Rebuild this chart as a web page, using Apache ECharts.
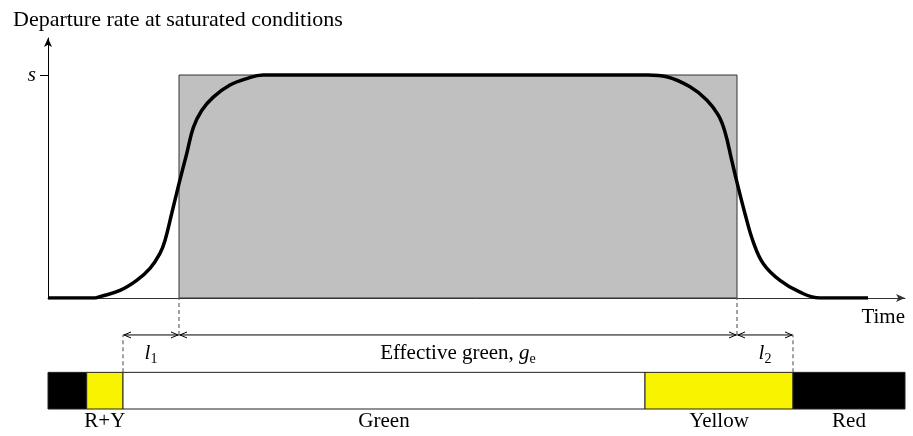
<!DOCTYPE html>
<html>
<head>
<meta charset="utf-8">
<title>departure rate</title>
<script src="https://cdn.jsdelivr.net/npm/echarts@6/dist/echarts.min.js"></script>
</head>
<body style="margin:0">
<div id="main" style="width:913px;height:436px;"></div>
<script>
// departure curve: time (s) against rate, as a share of saturation flow s
var curveTime = [0, 4.7, 5.2, 7.2, 8.87, 10.2, 11.2, 11.7, 12.37, 13.1, 13.87, 14.53, 15.37, 16.53, 18.2, 19.87, 21.5,
  60.0, 61.87, 64.2, 65.87, 67.03, 67.7, 68.37, 68.93, 69.7, 70.53, 71.53, 73.2, 75.2, 77.2, 82.0];
var curveRate = [0, 0, 0.006, 0.034, 0.079, 0.133, 0.2, 0.258, 0.379, 0.513, 0.647, 0.764, 0.841, 0.901, 0.955, 0.984, 1,
  1, 0.992, 0.947, 0.888, 0.82, 0.745, 0.618, 0.513, 0.378, 0.251, 0.154, 0.079, 0.026, 0, 0];

// effective green block
var effStart = 13.1, effEnd = 68.9, satRate = 1;

// signal phases in the bar
var phaseNames = ['', 'R+Y', 'Green', 'Yellow', 'Red'];
var phaseStart = [0, 3.87, 7.5, 59.7, 74.5];
var phaseEnd = [3.87, 7.5, 59.7, 74.5, 85.7];
var phaseColors = ['#000', '#f8f400', '#fff', '#f8f400', '#000'];

// dimension lines l1, effective green, l2
var dimStart = [7.5, 13.1, 68.9];
var dimEnd = [13.1, 68.9, 74.5];
var dimLabels = ['{it|l}{sub|1}', 'Effective green, {it|g}{sub|e}', '{it|l}{sub|2}'];

// dashed guides: time, and whether it runs up to the axis or down to the bar
var guideTime = [7.5, 13.1, 68.9, 74.5];
var guideToAxis = [false, true, true, false];

var BAR_TOP = 0.33, DIM_Y = 0.667;
var SERIF = '"Liberation Serif", "Times New Roman", serif';

var richText = {
  it: {fontStyle: 'italic', fontSize: 21, fontFamily: SERIF, lineHeight: 24, fill: '#000', color: '#000'},
  sub: {fontSize: 14, fontFamily: SERIF, lineHeight: 14, verticalAlign: 'bottom', fill: '#000', color: '#000'}
};

var myChart = echarts.init(document.getElementById('main'));

function renderRect(params, api) {
  var p0 = api.coord([api.value(0), api.value(2)]);
  var p1 = api.coord([api.value(1), 0]);
  return {
    type: 'rect',
    shape: {x: p0[0], y: p0[1], width: p1[0] - p0[0], height: p1[1] - p0[1]},
    style: {fill: '#c0c0c0', stroke: '#333', lineWidth: 1}
  };
}

function renderPhase(params, api) {
  var i = params.dataIndex;
  var p0 = api.coord([api.value(0), BAR_TOP]);
  var p1 = api.coord([api.value(1), 0]);
  var kids = [{
    type: 'rect',
    shape: {x: p0[0], y: p0[1], width: p1[0] - p0[0], height: p1[1] - p0[1]},
    style: {fill: phaseColors[i], stroke: '#222', lineWidth: 1}
  }];
  if (phaseNames[i]) {
    kids.push({
      type: 'text',
      x: (p0[0] + p1[0]) / 2, y: p1[1] + 2,
      style: {text: phaseNames[i], fill: '#000', fontSize: 21, fontFamily: SERIF, align: 'center', verticalAlign: 'top'}
    });
  }
  return {type: 'group', children: kids};
}

function renderDim(params, api) {
  var i = params.dataIndex;
  var a = api.coord([api.value(0), DIM_Y]);
  var b = api.coord([api.value(1), DIM_Y]);
  var y = a[1], ah = 8, aw = 3;
  var st = {stroke: '#000', fill: null, lineWidth: 1};
  return {type: 'group', children: [
    {type: 'line', shape: {x1: a[0], y1: y, x2: b[0], y2: y}, style: st},
    {type: 'polyline', shape: {points: [[a[0] + ah, y - aw], [a[0] + 1, y], [a[0] + ah, y + aw]]}, style: st},
    {type: 'polyline', shape: {points: [[b[0] - ah, y - aw], [b[0] - 1, y], [b[0] - ah, y + aw]]}, style: st},
    {type: 'text', x: (a[0] + b[0]) / 2, y: y + 19,
      style: {text: dimLabels[i], rich: richText, fill: '#000', fontSize: 21, fontFamily: SERIF, align: 'center', verticalAlign: 'middle'}}
  ]};
}

function renderGuide(params, api) {
  var i = params.dataIndex;
  var lo = guideToAxis[i] ? DIM_Y : BAR_TOP;
  var hi = guideToAxis[i] ? 1 : DIM_Y;
  var a = api.coord([api.value(0), lo]);
  var b = api.coord([api.value(0), hi]);
  return {
    type: 'line',
    shape: {x1: a[0], y1: a[1], x2: b[0], y2: b[1]},
    style: {stroke: '#666', lineWidth: 1.2, lineDash: [4, 3]}
  };
}

var curveData = curveTime.map(function (t, i) { return [t, curveRate[i]]; });
var phaseData = phaseStart.map(function (s, i) { return [s, phaseEnd[i]]; });
var dimData = dimStart.map(function (s, i) { return [s, dimEnd[i]]; });
var guideData = guideTime.map(function (t) { return [t]; });

myChart.setOption({
  animation: false,
  backgroundColor: '#fff',
  title: {
    text: 'Departure rate at saturated conditions',
    left: 8, top: 4,
    textStyle: {fontFamily: SERIF, fontSize: 22, fontWeight: 'normal', color: '#000'}
  },
  grid: [
    {left: 48, right: 8, top: 38, bottom: 138, outerBoundsMode: 'none'},
    {left: 48, right: 8, top: 298, bottom: 27, outerBoundsMode: 'none'}
  ],
  xAxis: [
    {
      gridIndex: 0, type: 'value', min: 0, max: 85.7,
      name: 'Time', nameLocation: 'end', nameGap: 0,
      nameTextStyle: {fontFamily: SERIF, fontSize: 21, color: '#000', align: 'right', verticalAlign: 'top', padding: [9, 0, 0, 0]},
      axisLine: {show: true, symbol: ['none', 'arrow'], symbolSize: [6, 9], lineStyle: {color: '#333', width: 1}},
      axisTick: {show: false}, axisLabel: {show: false}, splitLine: {show: false}
    },
    {gridIndex: 1, type: 'value', min: 0, max: 85.7, show: false}
  ],
  yAxis: [
    {
      gridIndex: 0, type: 'value', min: 0, max: 1.166,
      axisLine: {show: true, symbol: ['none', 'arrow'], symbolSize: [6, 9], lineStyle: {color: '#000', width: 1}},
      axisTick: {show: true, customValues: [1], length: 8, lineStyle: {color: '#000'}},
      axisLabel: {show: true, customValues: [1], formatter: function () { return 's'; }, margin: 12,
        fontFamily: SERIF, fontStyle: 'italic', fontSize: 21, color: '#000'},
      splitLine: {show: false}
    },
    {gridIndex: 1, type: 'value', min: 0, max: 1, show: false}
  ],
  series: [
    {
      type: 'custom', xAxisIndex: 0, yAxisIndex: 0, z: 1,
      renderItem: renderRect, data: [[effStart, effEnd, satRate]]
    },
    {
      type: 'line', xAxisIndex: 0, yAxisIndex: 0, z: 3,
      data: curveData, showSymbol: false, smooth: 0.4,
      lineStyle: {color: '#000', width: 3.5}
    },
    {type: 'custom', xAxisIndex: 1, yAxisIndex: 1, renderItem: renderPhase, data: phaseData},
    {type: 'custom', xAxisIndex: 1, yAxisIndex: 1, renderItem: renderDim, data: dimData},
    {type: 'custom', xAxisIndex: 1, yAxisIndex: 1, renderItem: renderGuide, data: guideData}
  ]
});
</script>
</body>
</html>
